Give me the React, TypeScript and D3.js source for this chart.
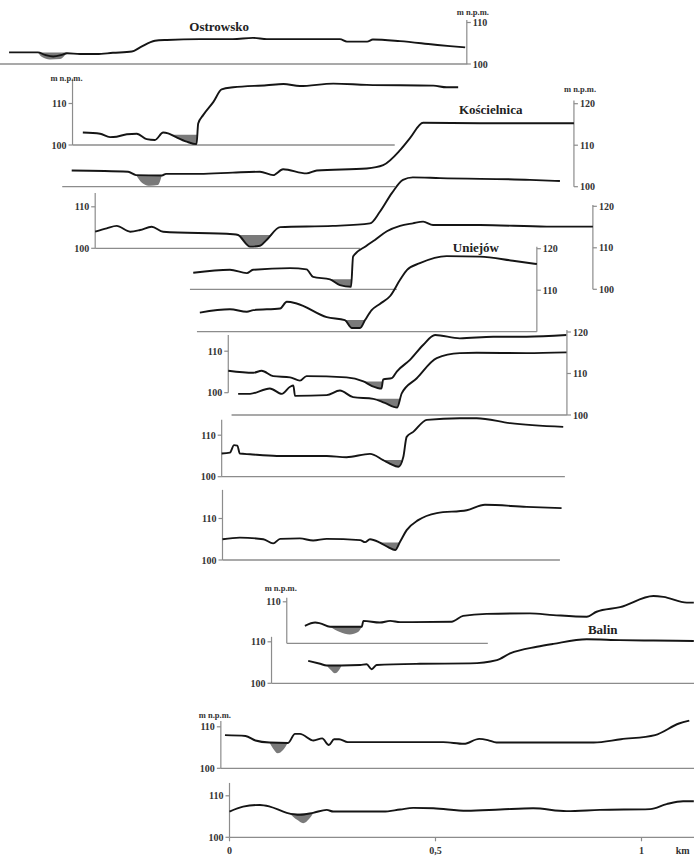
import React from 'react';
import * as d3 from 'd3';

type Pt = [number, number];

// distance along the common km axis (metres), elevation (m n.p.m.)
const ostrowsko: Pt[] = [[-535,102.8],[-465,102.8],[-448,102.2],[-428,101.8],[-407,102.2],[-394,102.6],[-363,102.4],[-322,102.4],[-283,102.7],[-237,103.0],[-217,104.0],[-181,105.6],[-152,105.8],[-72,106.0],[8,106.0],[57,106.3],[91,106.0],[171,106.0],[251,106.0],[268,106.0],[285,105.4],[334,105.4],[348,105.9],[414,105.5],[494,104.7],[535,104.3],[572,104.0]];
const ostrowskoWater: Pt[] = [[-465,102.8],[-455,101.7],[-436,101.1],[-411,101.2],[-397,102.4],[-394,102.8]];

const profile2: Pt[] = [[-356,103.0],[-314,102.7],[-290,101.9],[-274,102.0],[-249,102.6],[-225,102.7],[-201,101.4],[-181,101.2],[-161,103.0],[-149,102.8],[-132,102.0],[-104,100.8],[-80,100.2],[-76,105.2],[-64,107.2],[-39,110.4],[-19,113.4],[9,113.9],[90,114.4],[131,114.7],[171,114.2],[252,114.8],[333,114.5],[495,114.3],[527,113.9],[555,113.9]];
const profile2Water: Pt[] = [[-140,102.5],[-132,102.0],[-104,100.8],[-80,100.2],[-79,102.5]];

const koscielnicaA: Pt[] = [[-383,103.9],[-246,103.6],[-227,102.8],[-164,102.7],[-154,103.1],[-72,103.1],[8,103.4],[74,103.6],[106,102.8],[130,104.2],[187,103.2],[212,103.9],[333,104.4],[373,105.2],[414,108.8],[438,111.7],[470,115.4],[608,115.3],[836,115.3]];
const koscielnicaAWater: Pt[] = [[-227,102.8],[-212,100.9],[-193,100.2],[-174,100.4],[-164,102.8]];

const koscielnicaB: Pt[] = [[-326,104.0],[-298,104.8],[-274,105.4],[-241,104.0],[-217,104.4],[-189,105.2],[-161,104.0],[9,103.4],[21,103.2],[50,100.4],[74,100.6],[90,102.0],[123,105.1],[251,105.4],[341,106.0],[365,108.8],[394,113.3],[421,116.5],[445,117.1],[511,116.9],[729,116.5],[802,116.2]];
const koscielnicaBWater: Pt[] = [[21,103.2],[50,100.4],[74,100.6],[90,102.0],[103,103.2]];

const profile4: Pt[] = [[-88,104.0],[1,104.7],[42,103.9],[57,104.7],[147,105.1],[187,104.8],[203,103.0],[244,102.4],[268,101.0],[295,100.6],[300,107.9],[331,110.4],[353,111.9],[382,114.0],[414,115.3],[445,115.9],[470,116.3],[494,115.5],[608,115.5],[770,115.1],[882,115.1]];
const profile4Water: Pt[] = [[244,102.4],[268,101.0],[295,100.6],[296,102.4]];

const uniejow: Pt[] = [[-72,104.6],[1,105.4],[42,104.8],[58,105.2],[123,105.6],[139,107.2],[163,106.8],[236,103.5],[280,102.8],[297,100.9],[317,100.9],[329,102.8],[345,105.2],[365,106.7],[390,108.6],[414,112.5],[431,114.9],[462,116.5],[527,118.2],[608,118.1],[688,117.1],[746,116.3]];
const uniejowWater: Pt[] = [[280,102.8],[297,100.9],[317,100.9],[329,102.8]];

const profile6a: Pt[] = [[-3,105.3],[58,104.8],[78,105.3],[106,104.0],[147,103.7],[171,102.9],[187,104.0],[284,103.7],[325,102.7],[346,101.6],[369,101.0],[373,103.2],[394,103.5],[406,105.1],[438,107.9],[470,111.5],[499,113.9],[559,113.1],[640,113.5],[721,113.5],[818,113.9]];
const profile6aWater: Pt[] = [[325,102.7],[346,101.6],[369,101.0],[372,102.7]];

const profile6b: Pt[] = [[21,105.1],[50,105.1],[98,106.4],[127,105.1],[147,106.8],[155,107.1],[159,104.6],[236,104.8],[268,105.9],[300,104.3],[349,103.9],[377,102.9],[407,101.8],[418,105.2],[454,108.8],[503,113.7],[559,114.9],[600,115.0],[721,114.9],[818,115.1]];
const profile6bWater: Pt[] = [[349,103.9],[377,102.9],[407,101.8],[414,103.9]];

const profile7: Pt[] = [[-19,105.6],[1,105.8],[11,107.6],[19,107.5],[25,105.6],[50,105.4],[115,105.0],[236,105.0],[284,104.7],[341,105.5],[373,104.0],[390,103.1],[410,102.4],[422,104.8],[430,109.6],[446,110.8],[479,113.7],[559,114.1],[600,114.1],[681,112.9],[810,112.0]];
const profile7Water: Pt[] = [[373,104.0],[390,103.1],[410,102.4],[418,104.0]];

const profile8: Pt[] = [[-17,105.0],[25,105.4],[82,105.0],[106,104.0],[123,105.1],[171,105.2],[203,104.7],[236,105.1],[317,104.8],[329,104.3],[341,105.0],[365,104.2],[385,103.1],[402,102.4],[414,104.4],[430,107.2],[458,109.6],[503,111.3],[576,112.0],[620,113.3],[721,112.8],[806,112.5]];
const profile8Water: Pt[] = [[365,104.2],[385,103.1],[402,102.4],[412,104.2]];

const balinA: Pt[] = [[183,104.2],[208,105.0],[220,104.8],[244,104.0],[321,104.0],[325,105.4],[365,105.0],[390,105.4],[414,105.1],[539,105.2],[567,106.6],[624,107.1],[729,107.2],[786,106.8],[867,106.4],[891,107.6],[948,108.7],[1029,111.4],[1053,111.2],[1110,109.8],[1127,109.8]];
const balinAWater: Pt[] = [[244,104.0],[268,102.7],[292,102.1],[312,102.7],[321,104.0]];

const balinB: Pt[] = [[191,105.4],[220,104.7],[236,104.3],[272,104.3],[317,104.4],[333,104.6],[345,103.4],[357,104.4],[462,104.7],[584,104.8],[649,105.6],[681,107.2],[746,108.8],[786,109.5],[867,110.6],[948,110.4],[1029,110.3],[1127,110.2]];
const balinBWater: Pt[] = [[236,104.3],[246,103.2],[256,102.4],[266,103.2],[272,104.3]];

const profile11: Pt[] = [[-11,108.0],[39,107.8],[63,106.7],[97,106.2],[142,106.1],[159,108.3],[171,108.3],[204,106.7],[225,107.2],[241,105.6],[254,107.0],[266,107.0],[287,106.3],[411,106.3],[519,106.3],[569,105.9],[606,107.1],[627,106.8],[648,106.2],[743,106.2],[884,106.2],[950,107.0],[1033,108.0],[1091,110.8],[1116,111.5]];
const profile11Water: Pt[] = [[97,106.2],[106,104.7],[117,103.6],[130,104.4],[142,106.2]];

const profile12: Pt[] = [[0,106.2],[33,107.4],[74,107.8],[98,107.4],[139,105.9],[171,105.4],[203,105.9],[236,106.6],[252,106.2],[373,106.2],[414,106.7],[446,107.1],[495,107.0],[576,106.4],[657,106.7],[737,107.0],[818,106.3],[899,106.6],[1021,106.8],[1061,108.0],[1101,108.7],[1127,108.7]];
const profile12Water: Pt[] = [[145,105.8],[164,104.2],[179,103.4],[193,104.4],[203,105.8]];

const kmTicks = [0, 500, 1000];
const kmLabels = ['0', '0,5', '1'];

type Axis = { side: 'left' | 'right'; at: number; top: number; ticks: number[] };
type Panel = {
  base: number;
  line: Pt[];
  water: Pt[];
  baseline?: [number, number];
  axis: Axis;
  unit?: number;
  title?: { text: string; at: Pt };
};

const panels: Panel[] = [
  { base: 64, line: ostrowsko, water: ostrowskoWater, baseline: [-650, 577],
    axis: { side: 'right', at: 576, top: 110.6, ticks: [100, 110] }, unit: 111.9,
    title: { text: 'Ostrowsko', at: [-25, 108.0] } },
  { base: 145, line: profile2, water: profile2Water, baseline: [-381, 401],
    axis: { side: 'left', at: -381, top: 116.0, ticks: [100, 110] }, unit: 115.4 },
  { base: 186.7, line: koscielnicaA, water: koscielnicaAWater, baseline: [-406, 402],
    axis: { side: 'right', at: 836, top: 120.8, ticks: [100, 110, 120] }, unit: 122.8,
    title: { text: 'Kościelnica', at: [634, 117.5] } },
  { base: 248.3, line: koscielnicaB, water: koscielnicaBWater, baseline: [-326, 317],
    axis: { side: 'left', at: -326, top: 113.3, ticks: [100, 110] } },
  { base: 289.3, line: profile4, water: profile4Water, baseline: [-96, 406],
    axis: { side: 'right', at: 882, top: 120.3, ticks: [100, 110, 120] } },
  { base: 331.7, line: uniejow, water: uniejowWater, baseline: [-79, 746],
    axis: { side: 'right', at: 746, top: 120.5, ticks: [110, 120] },
    title: { text: 'Uniejów', at: [598, 119.2] } },
  { base: 392.7, line: profile6a, water: profile6aWater,
    axis: { side: 'left', at: -3, top: 113.9, ticks: [100, 110] } },
  { base: 415, line: profile6b, water: profile6bWater, baseline: [5, 819],
    axis: { side: 'right', at: 819, top: 120.5, ticks: [100, 110, 120] } },
  { base: 476.7, line: profile7, water: profile7Water, baseline: [-19, 814],
    axis: { side: 'left', at: -19, top: 113.7, ticks: [100, 110] } },
  { base: 560, line: profile8, water: profile8Water, baseline: [-17, 802],
    axis: { side: 'left', at: -17, top: 116.9, ticks: [100, 110] } },
  { base: 643.3, line: balinA, water: balinAWater, baseline: [139, 627],
    axis: { side: 'left', at: 139, top: 111.0, ticks: [110] }, unit: 112.6 },
  { base: 683.3, line: balinB, water: balinBWater, baseline: [102, 1140],
    axis: { side: 'left', at: 102, top: 111.2, ticks: [100, 110] },
    title: { text: 'Balin', at: [906, 111.9] } },
  { base: 768.3, line: profile11, water: profile11Water, baseline: [-21, 1140],
    axis: { side: 'left', at: -21, top: 111.4, ticks: [100, 110] }, unit: 112.1 },
  { base: 837.3, line: profile12, water: profile12Water, baseline: [0, 1140],
    axis: { side: 'left', at: 0, top: 113.1, ticks: [100, 110] } },
];

const W = 694;
const H = 858;
const M_PX = 4.15;
const FONT = '"Liberation Serif", "Times New Roman", serif';
const GREY = '#8c8c8c';

const x = d3.scaleLinear().domain([0, 1000]).range([229.5, 641.5]);

function Profile({ p }: { p: Panel }) {
  const y = d3.scaleLinear().domain([100, 110]).range([p.base, p.base - 10 * M_PX]);
  const line = d3.line<Pt>().x(d => x(d[0])).y(d => y(d[1])).curve(d3.curveMonotoneX);
  const level = p.water[0][1];
  const area = d3.area<Pt>().x(d => x(d[0])).y0(y(level)).y1(d => y(d[1])).curve(d3.curveMonotoneX);
  const a = p.axis;
  const ax = x(a.at);
  const dir = a.side === 'right' ? 1 : -1;
  return (
    <g>
      {p.baseline && (
        <line x1={x(p.baseline[0])} x2={x(p.baseline[1])} y1={y(100)} y2={y(100)} stroke={GREY} strokeWidth={1.3} />
      )}
      <line x1={ax} x2={ax} y1={y(100)} y2={y(a.top)} stroke={GREY} strokeWidth={1.2} />
      {a.ticks.map(t => (
        <g key={t}>
          <line x1={ax} x2={ax + dir * 4} y1={y(t)} y2={y(t)} stroke={GREY} strokeWidth={1.2} />
          <text x={ax + dir * 6} y={y(t)} dy="0.35em" textAnchor={dir > 0 ? 'start' : 'end'}
            fontSize={10} fontWeight="bold" fill="#333">{t}</text>
        </g>
      ))}
      {p.unit !== undefined && (
        <text x={dir > 0 ? ax - 10 : ax + 10} y={y(p.unit)} textAnchor={dir > 0 ? 'start' : 'end'}
          fontSize={8.5} fontWeight="bold" fill="#333">m n.p.m.</text>
      )}
      <path d={area(p.water) || ''} fill="#7a7a7a" />
      <path d={line(p.line) || ''} fill="none" stroke="#151515" strokeWidth={1.9} strokeLinejoin="round" />
      {p.title && (
        <text x={x(p.title.at[0])} y={y(p.title.at[1])} textAnchor="middle" fontSize={13}
          fontWeight="bold" fill="#222">{p.title.text}</text>
      )}
    </g>
  );
}

export default function App() {
  const last = panels[panels.length - 1];
  const base = last.base;
  return (
    <svg width={W} height={H} style={{ position: 'absolute', left: 0, top: 0, background: '#fff' }}
      fontFamily={FONT}>
      <rect width={W} height={H} fill="#fff" />
      {panels.map((p, i) => <Profile key={i} p={p} />)}
      {kmTicks.map((t, i) => (
        <g key={t}>
          <line x1={x(t)} x2={x(t)} y1={base} y2={base + 4} stroke={GREY} strokeWidth={1.2} />
          <text x={x(t)} y={base + 17} textAnchor="middle" fontSize={10} fontWeight="bold" fill="#333">{kmLabels[i]}</text>
        </g>
      ))}
      <text x={x(1100)} y={base + 17} textAnchor="middle" fontSize={10} fontWeight="bold" fill="#333">km</text>
    </svg>
  );
}
